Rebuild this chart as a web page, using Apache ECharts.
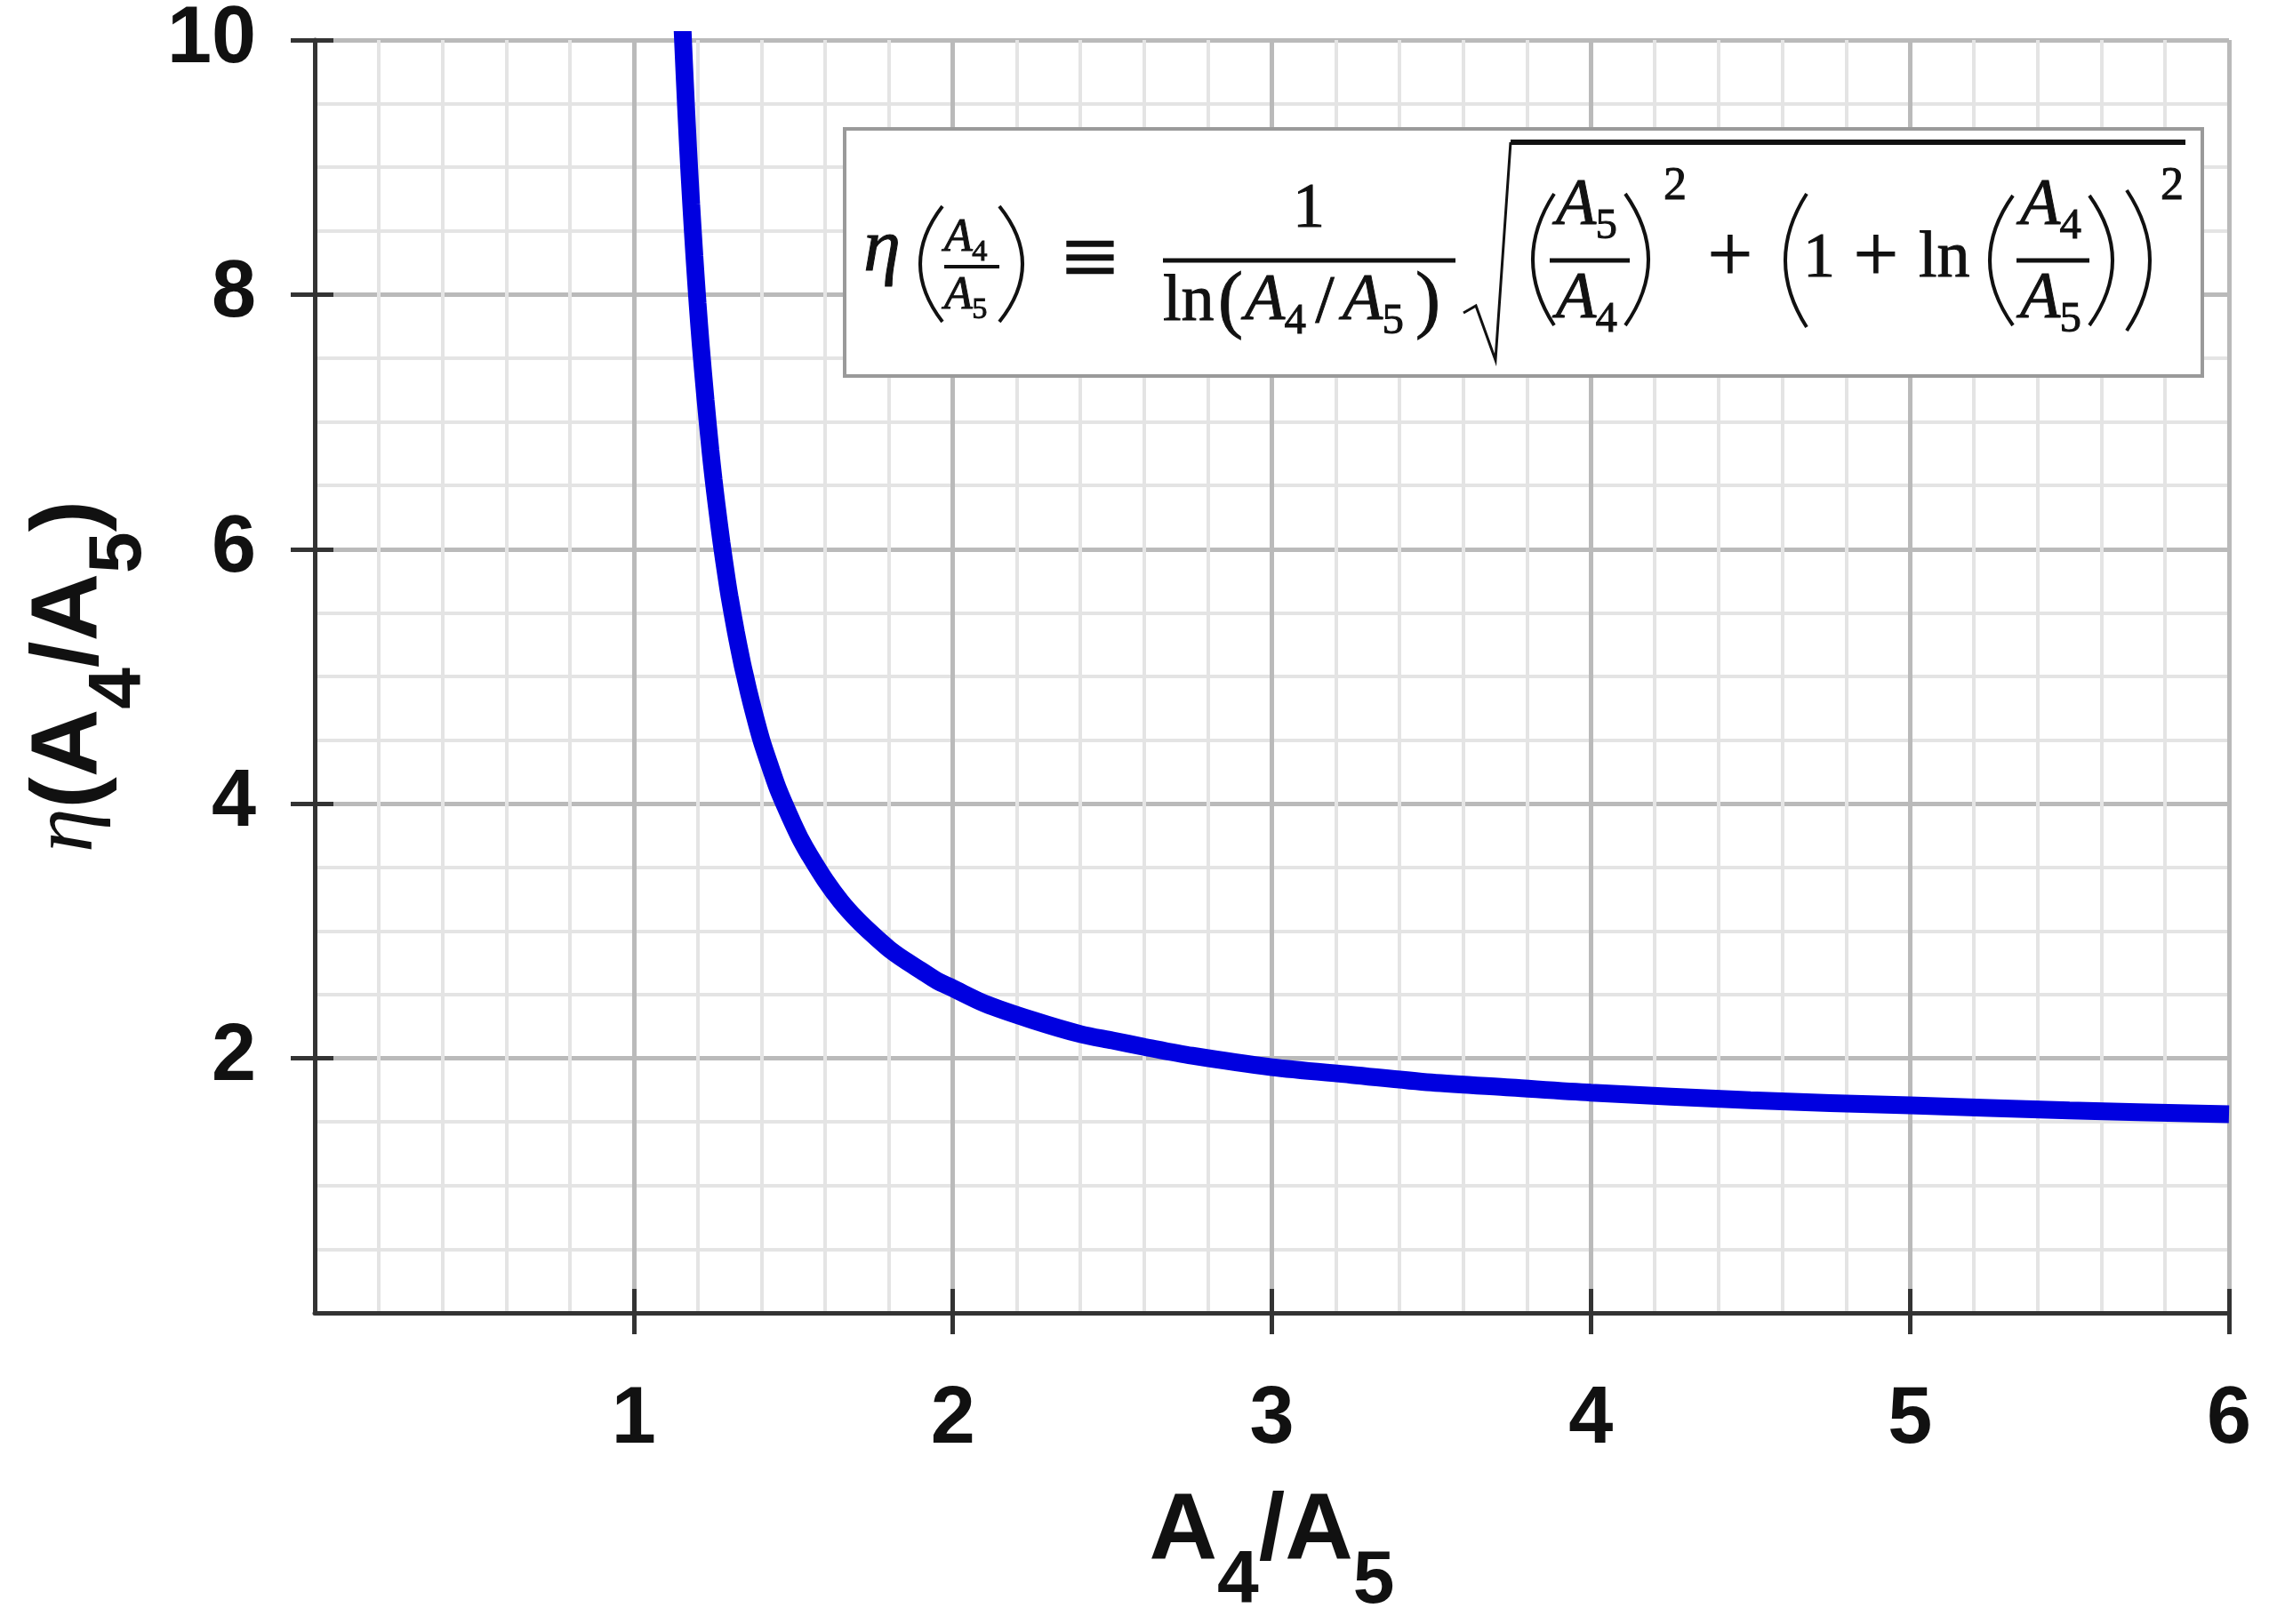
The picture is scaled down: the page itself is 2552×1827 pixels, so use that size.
<!DOCTYPE html>
<html>
<head>
<meta charset="utf-8">
<script src="https://cdn.jsdelivr.net/npm/echarts@6/dist/echarts.min.js"></script>
<style>html,body{margin:0;padding:0;background:#fff}#c{width:2552px;height:1827px}</style>
</head>
<body>
<div id="c"></div>
<script>
// values: ratio A4/A5 and eta
const ratioValues = [1.15, 1.155, 1.16, 1.17, 1.18, 1.19, 1.2, 1.21, 1.225, 1.24, 1.25, 1.26, 1.275, 1.29, 1.3, 1.32, 1.34, 1.35, 1.36, 1.375, 1.4, 1.425, 1.45, 1.475, 1.5, 1.525, 1.55, 1.6, 1.65, 1.7, 1.75, 1.8, 1.85, 1.9, 1.95, 2.0, 2.1, 2.25, 2.4, 2.5, 2.6, 2.75, 3.0, 3.25, 3.5, 3.75, 4.0, 4.5, 5.0, 5.5, 6.0];
const etaValues   = [10.26, 9.96, 9.68, 9.16, 8.71, 8.30, 7.93, 7.60, 7.17, 6.78, 6.55, 6.34, 6.05, 5.79, 5.63, 5.35, 5.10, 4.99, 4.88, 4.73, 4.50, 4.31, 4.13, 3.98, 3.84, 3.71, 3.60, 3.40, 3.23, 3.09, 2.97, 2.86, 2.77, 2.69, 2.61, 2.55, 2.43, 2.30, 2.19, 2.14, 2.09, 2.02, 1.93, 1.87, 1.81, 1.77, 1.73, 1.67, 1.63, 1.59, 1.56];
const xTickLabels = ['1', '2', '3', '4', '5', '6'];
const yTickLabels = ['2', '4', '6', '8', '10'];

const SANS = "'Liberation Sans', Arial, sans-serif";
const SERIF = "'Liberation Serif', 'DejaVu Serif', serif";
const INK = '#111';

function T(s, x, y, size, opt) {
  opt = opt || {};
  const al = opt.align || 'center';
  return { type: 'text', x: x, y: y, z: 100, style: {
    text: s, fontSize: size, fontFamily: opt.family || SERIF, fontStyle: opt.it ? 'italic' : 'normal',
    fill: INK, stroke: INK, lineWidth: opt.lw == null ? 1 : opt.lw,
    align: al, textAlign: al, verticalAlign: 'middle', textVerticalAlign: 'middle' } };
}
function L(x1, y1, x2, y2, w) {
  return { type: 'line', z: 100, shape: { x1: x1, y1: y1, x2: x2, y2: y2 }, style: { stroke: INK, lineWidth: w } };
}
function P(xl, xr, yt, yb, left) {
  const mid = (yt + yb) / 2;
  const shape = left
    ? { x1: xr, y1: yt, x2: xr, y2: yb, cpx1: 2 * xl - xr, cpy1: mid }
    : { x1: xl, y1: yt, x2: xl, y2: yb, cpx1: 2 * xr - xl, cpy1: mid };
  return { type: 'bezierCurve', z: 100, shape: shape, style: { stroke: INK, lineWidth: 4, fill: null } };
}
function Asub(x, cy, S, d) {
  return [T('A', x, cy, S, { it: true, align: 'left' }), T(d, x + 0.6 * S, cy + 0.3 * S, 0.66 * S, { align: 'left' })];
}

const eq = [].concat(
  [{ type: 'rect', z: 90, shape: { x: 950, y: 145, width: 1527, height: 278 }, style: { fill: '#fff', stroke: '#9a9a9a', lineWidth: 4 } }],
  [T('η', 992, 282, 84, { it: true })],
  [P(1035, 1060, 232, 362, true), P(1124, 1150, 232, 362, false)],
  [L(1062, 300, 1124, 300, 4)], Asub(1062, 268, 52, '4'), Asub(1062, 333, 52, '5'),
  [T('≡', 1226, 294, 84, { family: "'DejaVu Serif', serif", lw: 0.5 })],
  [L(1308, 293, 1637, 293, 5), T('1', 1472, 236, 72)],
  [T('ln', 1308, 341, 74, { align: 'left' }), T('(', 1384, 342, 84)], Asub(1400, 340, 74, '4'),
  [T('/', 1490, 342, 76)], Asub(1510, 340, 74, '5'), [T(')', 1606, 342, 84)],
  [{ type: 'polyline', z: 100, shape: { points: [[1646, 352], [1660, 344], [1682, 405], [1699, 160]] }, style: { stroke: INK, lineWidth: 3, fill: null } },
   L(1699, 160, 2458, 160, 6)],
  [P(1724, 1748, 218, 366, true), P(1828, 1854, 218, 366, false), L(1743, 293, 1833, 293, 5)],
  Asub(1750, 233, 74, '5'), Asub(1750, 338, 74, '4'),
  [T('2', 1884, 210, 52), T('+', 1946, 292, 90)],
  [P(2008, 2032, 218, 368, true), T('1', 2046, 292, 72), T('+', 2110, 292, 90), T('ln', 2158, 292, 74, { align: 'left' })],
  [P(2238, 2264, 220, 366, true), L(2268, 293, 2350, 293, 5)],
  Asub(2272, 233, 74, '4'), Asub(2272, 338, 74, '5'),
  [P(2350, 2376, 220, 366, false), P(2392, 2418, 214, 372, false), T('2', 2443, 210, 52)]
);

const nameRich = {
  b: { fontSize: 106, fontWeight: 'bold', fontFamily: SANS, color: INK, lineHeight: 106, verticalAlign: 'top' },
  s: { fontSize: 84, fontWeight: 'bold', fontFamily: SANS, color: INK, lineHeight: 84, padding: [66, 0, 0, 0], verticalAlign: 'top' },
  e: { fontSize: 100, fontStyle: 'italic', fontFamily: SERIF, color: INK, lineHeight: 106, verticalAlign: 'top' }
};

const chart = echarts.init(document.getElementById('c'), null, { renderer: 'canvas' });
const axisCommon = {
  min: 0,
  axisLine: { show: true, onZero: false, lineStyle: { color: '#333', width: 5 } },
  axisLabel: { fontSize: 90, fontWeight: 'bold', fontFamily: SANS, color: INK, margin: 66, showMinLabel: false },
  splitLine: { show: true, lineStyle: { color: '#bababa', width: 5 } },
  minorSplitLine: { show: true, lineStyle: { color: '#e4e4e4', width: 4 } }
};
chart.setOption({
  animation: false,
  backgroundColor: '#fff',
  grid: { left: 354, right: 45, top: 43, bottom: 342, containLabel: false },
  xAxis: [
    Object.assign({}, axisCommon, {
      type: 'value', max: 6, interval: 1, position: 'bottom',
      axisTick: { show: true, length: 24, lineStyle: { color: '#333', width: 5 } },
      minorTick: { show: false, splitNumber: 5 },
      axisLabel: Object.assign({}, axisCommon.axisLabel, { margin: 76, formatter: v => xTickLabels.includes(String(v)) ? String(v) : '' }),
      name: '{b|A}{s|4}{b|/A}{s|5}', nameLocation: 'middle', nameGap: 195,
      nameTextStyle: { rich: nameRich }
    }),
    { type: 'value', min: 0, max: 6, interval: 1, position: 'bottom', gridIndex: 0,
      axisLine: { show: false }, axisLabel: { show: false }, splitLine: { show: false },
      axisTick: { show: true, inside: true, length: 27, lineStyle: { color: '#333', width: 5 } } }
  ],
  yAxis: [
    Object.assign({}, axisCommon, {
      type: 'value', max: 10, interval: 2, position: 'left',
      axisTick: { show: true, length: 27, lineStyle: { color: '#333', width: 5 } },
      minorTick: { show: false, splitNumber: 4 },
      axisLabel: Object.assign({}, axisCommon.axisLabel, { formatter: v => yTickLabels.includes(String(v)) ? String(v) : '' }),
      name: '{e|η}{b|(A}{s|4}{b|/A}{s|5}{b|)}', nameLocation: 'middle', nameRotate: 90, nameGap: 212,
      nameTextStyle: { rich: nameRich }
    }),
    { type: 'value', min: 0, max: 10, interval: 2, position: 'left', gridIndex: 0,
      axisLine: { show: false }, axisLabel: { show: false }, splitLine: { show: false },
      axisTick: { show: true, inside: true, length: 21, lineStyle: { color: '#333', width: 5 } } }
  ],
  series: [{
    type: 'line', xAxisIndex: 0, yAxisIndex: 0,
    data: ratioValues.map((x, i) => [x, etaValues[i]]),
    showSymbol: false, smooth: 0.3, clip: true,
    lineStyle: { color: '#0000e0', width: 20, cap: 'butt' }, z: 5
  }],
  graphic: { elements: eq }
});
</script>
</body>
</html>
